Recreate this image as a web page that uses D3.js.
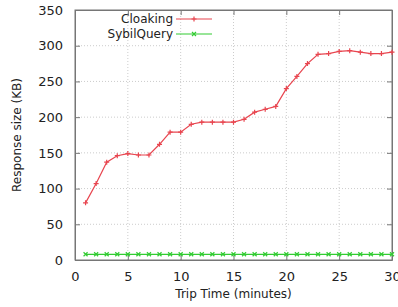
<!DOCTYPE html>
<html>
<head>
<meta charset="utf-8">
<script src="https://cdn.jsdelivr.net/npm/d3@7"></script>
<style>
  body { margin: 0; background: #fff; }
  text { font-family: "DejaVu Sans", sans-serif; fill: #222; }
</style>
</head>
<body>
<div id="chart"></div>
<script>
"use strict";

var tripTime = [1, 2, 3, 4, 5, 6, 7, 8, 9, 10, 11, 12, 13, 14, 15, 16, 17, 18, 19, 20, 21, 22, 23, 24, 25, 26, 27, 28, 29, 30];
var cloaking = [80, 107, 137, 146, 149, 147, 147, 162, 179, 179, 190, 193, 193, 193, 193, 197, 207, 211, 215, 240, 257, 275, 288, 289, 292, 293, 291, 289, 289, 291];
var sybilQuery = [8, 8, 8, 8, 8, 8, 8, 8, 8, 8, 8, 8, 8, 8, 8, 8, 8, 8, 8, 8, 8, 8, 8, 8, 8, 8, 8, 8, 8, 8];
var xTicks = [0, 5, 10, 15, 20, 25, 30];
var yTicks = [0, 50, 100, 150, 200, 250, 300, 350];

var margin = { top: 10, right: 6, bottom: 47, left: 75 };
var width = 398 - margin.left - margin.right;
var height = 307 - margin.top - margin.bottom;

var svg = d3.select("#chart").append("svg").attr("width", 398).attr("height", 307)
  .append("g").attr("transform", "translate(" + margin.left + "," + margin.top + ")");

var xScale = d3.scaleLinear().domain([0, 30]).range([0, width]);
var yScale = d3.scaleLinear().domain([0, 350]).range([height, 0]);

// grid
svg.append("g").selectAll("line").data(xTicks.slice(1, -1)).enter().append("line")
  .attr("x1", function (d) { return xScale(d); }).attr("x2", function (d) { return xScale(d); })
  .attr("y1", 0).attr("y2", height)
  .attr("stroke", "#ccc").attr("stroke-dasharray", "1,2");
svg.append("g").selectAll("line").data(yTicks.slice(1, -1)).enter().append("line")
  .attr("y1", function (d) { return yScale(d); }).attr("y2", function (d) { return yScale(d); })
  .attr("x1", 0).attr("x2", width)
  .attr("stroke", "#ccc").attr("stroke-dasharray", "1,2");

// axes with inward ticks on all sides
var xAxis = d3.axisBottom(xScale).tickValues(xTicks).tickSizeInner(-5).tickSizeOuter(0).tickPadding(12);
var yAxis = d3.axisLeft(yScale).tickValues(yTicks).tickSizeInner(-5).tickSizeOuter(0).tickPadding(12);

var gx = svg.append("g").attr("transform", "translate(0," + height + ")").call(xAxis);
var gy = svg.append("g").call(yAxis);
svg.append("g").call(d3.axisTop(xScale).tickValues(xTicks).tickSizeInner(-5).tickSizeOuter(0).tickFormat(""));
svg.append("g").attr("transform", "translate(" + width + ",0)")
  .call(d3.axisRight(yScale).tickValues(yTicks).tickSizeInner(-5).tickSizeOuter(0).tickFormat(""));

svg.selectAll(".domain").attr("stroke", "#777");
svg.selectAll(".tick line").attr("stroke", "#777");
gx.selectAll("text").attr("font-size", 13).style("font-family", "DejaVu Sans, sans-serif").attr("fill", "#222");
gy.selectAll("text").attr("font-size", 13).style("font-family", "DejaVu Sans, sans-serif").attr("fill", "#222");

// frame
svg.append("rect").attr("width", width).attr("height", height).attr("fill", "none").attr("stroke", "#777");

var line = d3.line()
  .x(function (d) { return xScale(d[0]); })
  .y(function (d) { return yScale(d[1]); });

var red = "#e8454f";
var green = "#33cc33";

var cloakData = d3.zip(tripTime, cloaking);
var sybilData = d3.zip(tripTime, sybilQuery);

svg.append("path").datum(cloakData).attr("d", line).attr("fill", "none").attr("stroke", red).attr("stroke-width", 1.2);
svg.append("path").datum(sybilData).attr("d", line).attr("fill", "none").attr("stroke", green).attr("stroke-width", 1.2);

function plus(g, data, color) {
  g.selectAll("path.m").data(data).enter().append("path").attr("class", "m")
    .attr("d", function (d) {
      var x = xScale(d[0]), y = yScale(d[1]);
      return "M" + (x - 2.5) + "," + y + "H" + (x + 2.5) + "M" + x + "," + (y - 2.5) + "V" + (y + 2.5);
    })
    .attr("stroke", color).attr("stroke-width", 1.2);
}
function cross(g, data, color) {
  g.selectAll("path.m").data(data).enter().append("path").attr("class", "m")
    .attr("d", function (d) {
      var x = xScale(d[0]), y = yScale(d[1]);
      return "M" + (x - 2) + "," + (y - 2) + "L" + (x + 2) + "," + (y + 2) + "M" + (x - 2) + "," + (y + 2) + "L" + (x + 2) + "," + (y - 2);
    })
    .attr("stroke", color).attr("stroke-width", 1.2);
}
plus(svg.append("g"), cloakData, red);
cross(svg.append("g"), sybilData, green);

// legend
var legend = svg.append("g").attr("transform", "translate(98,9)");
legend.append("text").attr("x", 0).attr("y", 4).attr("text-anchor", "end").attr("font-size", 12).text("Cloaking");
legend.append("line").attr("x1", 3).attr("x2", 39).attr("y1", 0).attr("y2", 0).attr("stroke", red).attr("stroke-width", 1.2);
plus(legend.append("g"), [[xScale.invert(21), yScale.invert(0)]], red);
legend.append("text").attr("x", 0).attr("y", 19).attr("text-anchor", "end").attr("font-size", 12).text("SybilQuery");
legend.append("line").attr("x1", 3).attr("x2", 39).attr("y1", 15).attr("y2", 15).attr("stroke", green).attr("stroke-width", 1.2);
cross(legend.append("g"), [[xScale.invert(21), yScale.invert(15)]], green);

// axis titles
svg.append("text").attr("text-anchor", "middle").attr("font-size", 12)
  .attr("transform", "translate(-54," + height / 2 + ")rotate(-90)").text("Response size (KB)");
svg.append("text").attr("text-anchor", "middle").attr("font-size", 12)
  .attr("transform", "translate(" + width / 2 + "," + (height + 38) + ")").text("Trip Time (minutes)");
</script>
</body>
</html>
